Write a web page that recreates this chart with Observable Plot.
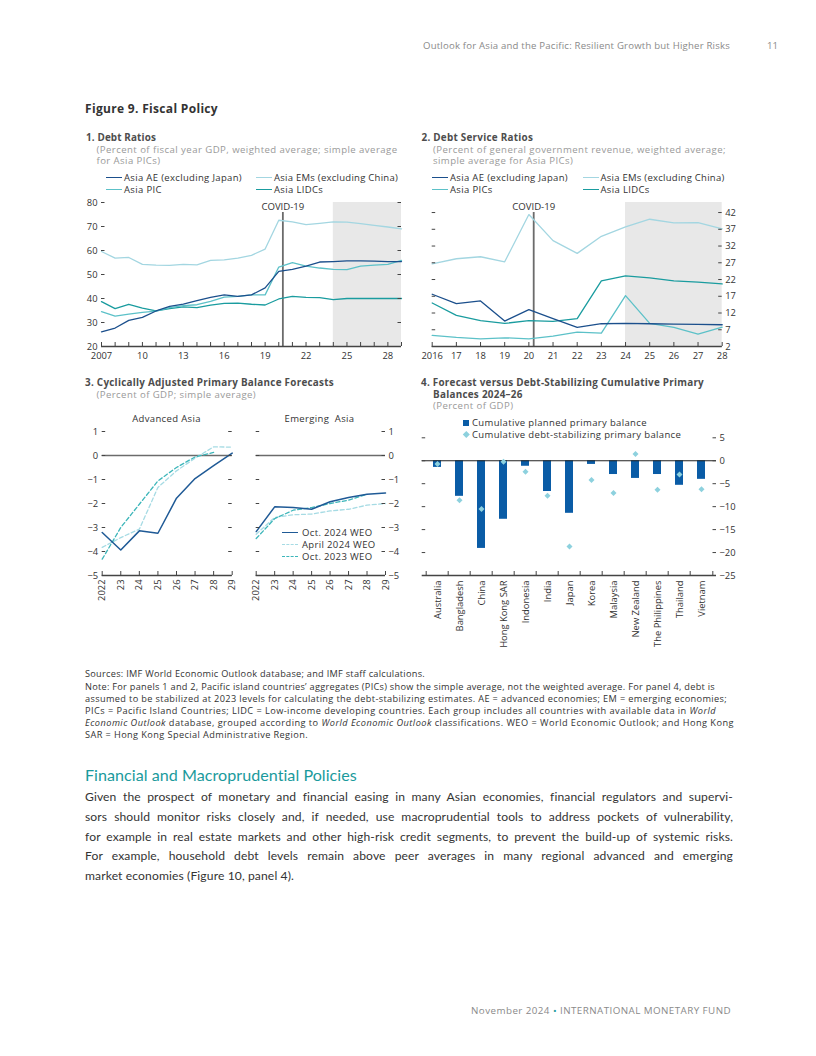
<!DOCTYPE html>
<html><head><meta charset="utf-8">
<script src="https://cdn.jsdelivr.net/npm/d3@7"></script>
<script src="https://cdn.jsdelivr.net/npm/@observablehq/plot@0.6"></script>
<style>
body{margin:0;width:816px;height:1056px;position:relative;font-family:"Open Sans",sans-serif;background:#fff;color:#333;overflow:hidden}
.t{position:absolute;white-space:nowrap;line-height:11px}
.pt{font-weight:bold;font-size:9.9px;color:#4d4d4d;letter-spacing:0.27px}
.ps{font-size:9.6px;color:#9a9a9a;letter-spacing:0.42px}
.lg{font-size:9.5px;color:#333;letter-spacing:0.35px}
.sw{position:absolute;height:0;border-top:1.4px solid}
.fn{font-size:9.2px;color:#333}
.bd{position:absolute;left:85px;white-space:nowrap;font-family:Lato,sans-serif;font-size:12.1px;letter-spacing:0.12px;line-height:16px;color:#333}
.plot{position:absolute}
</style></head><body>

<div class="t" data-w="307" style="right:86px;top:39.5px;font-size:9.6px;color:#8a8a8a">Outlook for Asia and the Pacific: Resilient Growth but Higher Risks</div>
<div class="t" style="left:767px;top:39.5px;font-size:9.6px;color:#8a8a8a">11</div>

<div class="t" data-w="133" style="left:85px;top:102px;font-size:12px;font-weight:bold;color:#333;line-height:14px">Figure 9. Fiscal Policy</div>

<!-- Panel 1 texts -->
<div class="t pt" data-w="70" style="left:86px;top:132px">1. Debt Ratios</div>
<div class="t ps" data-w="301" style="left:96.5px;top:143.5px">(Percent of fiscal year GDP, weighted average; simple average</div>
<div class="t ps" style="left:96.5px;top:154.5px">for Asia PICs)</div>
<div class="sw" style="left:106px;top:177px;width:16px;border-color:#1b4f8c"></div>
<div class="t lg" data-w="118" style="left:124px;top:172px">Asia AE (excluding Japan)</div>
<div class="sw" style="left:106px;top:189px;width:16px;border-color:#5cc1c8"></div>
<div class="t lg" style="left:124px;top:183.8px">Asia PIC</div>
<div class="sw" style="left:256px;top:177px;width:16px;border-color:#a3d6e1"></div>
<div class="t lg" data-w="124" style="left:274px;top:172px">Asia EMs (excluding China)</div>
<div class="sw" style="left:256px;top:189px;width:16px;border-color:#1a9c9f"></div>
<div class="t lg" style="left:274px;top:183.8px">Asia LIDCs</div>

<!-- Panel 2 texts -->
<div class="t pt" data-w="111.6" style="left:421.5px;top:132px">2. Debt Service Ratios</div>
<div class="t ps" data-w="293" style="left:433px;top:143.5px">(Percent of general government revenue, weighted average;</div>
<div class="t ps" style="left:433px;top:154.5px">simple average for Asia PICs)</div>
<div class="sw" style="left:432px;top:177px;width:16px;border-color:#1b4f8c"></div>
<div class="t lg" data-w="118" style="left:450px;top:172px">Asia AE (excluding Japan)</div>
<div class="sw" style="left:432px;top:189px;width:16px;border-color:#5cc1c8"></div>
<div class="t lg" style="left:450px;top:183.8px">Asia PICs</div>
<div class="sw" style="left:583px;top:177px;width:16px;border-color:#a3d6e1"></div>
<div class="t lg" data-w="124" style="left:600.5px;top:172px">Asia EMs (excluding China)</div>
<div class="sw" style="left:583px;top:189px;width:16px;border-color:#1a9c9f"></div>
<div class="t lg" style="left:600.5px;top:183.8px">Asia LIDCs</div>

<!-- Panel 3 texts -->
<div class="t pt" data-w="249" style="left:85px;top:377px">3. Cyclically Adjusted Primary Balance Forecasts</div>
<div class="t ps" style="left:96.5px;top:388.5px">(Percent of GDP; simple average)</div>
<div class="t lg" style="left:166.5px;top:413px;transform:translateX(-50%)">Advanced Asia</div>
<div class="t lg" style="left:319.5px;top:413px;transform:translateX(-50%)">Emerging&nbsp; Asia</div>
<div class="sw" style="left:282px;top:532px;width:16px;border-color:#1f5a96"></div>
<div class="t lg" style="left:302px;top:526.5px">Oct. 2024 WEO</div>
<div class="sw" style="left:282px;top:544px;width:16px;border-top-style:dashed;border-color:#a6dbe4"></div>
<div class="t lg" style="left:302px;top:538.5px">April 2024 WEO</div>
<div class="sw" style="left:282px;top:556px;width:16px;border-top-style:dashed;border-color:#3db6ba"></div>
<div class="t lg" style="left:302px;top:550.5px">Oct. 2023 WEO</div>

<!-- Panel 4 texts -->
<div class="t pt" data-w="283" style="left:421px;top:377px">4. Forecast versus Debt-Stabilizing Cumulative Primary</div>
<div class="t pt" style="left:433px;top:388.5px">Balances 2024–26</div>
<div class="t ps" style="left:433px;top:400px">(Percent of GDP)</div>
<div style="position:absolute;left:463.3px;top:419.7px;width:6px;height:6px;background:#0a5ca6"></div>
<div class="t lg" style="left:472px;top:417.2px">Cumulative planned primary balance</div>
<div style="position:absolute;left:463.5px;top:431.7px;width:4.6px;height:4.6px;background:#8dd1de;transform:rotate(45deg)"></div>
<div class="t lg" style="left:472px;top:428.8px">Cumulative debt-stabilizing primary balance</div>

<!-- Footnotes -->
<div class="t fn" data-w="340" style="left:85px;top:667.5px">Sources: IMF World Economic Outlook database; and IMF staff calculations.</div>
<div class="t fn" data-w="630" style="left:85px;top:680.5px">Note: For panels 1 and 2, Pacific island countries’ aggregates (PICs) show the simple average, not the weighted average. For panel 4, debt is</div>
<div class="t fn" data-w="642" style="left:85px;top:692.5px">assumed to be stabilized at 2023 levels for calculating the debt-stabilizing estimates. AE = advanced economies; EM = emerging economies;</div>
<div class="t fn" data-w="631" style="left:85px;top:704.5px">PICs = Pacific Island Countries; LIDC = Low-income developing countries. Each group includes all countries with available data in <i>World</i></div>
<div class="t fn" data-w="649" style="left:85px;top:716.5px"><i>Economic Outlook</i> database, grouped according to <i>World Economic Outlook</i> classifications. WEO = World Economic Outlook; and Hong Kong</div>
<div class="t fn" data-w="223" style="left:85px;top:728.5px">SAR = Hong Kong Special Administrative Region.</div>

<div class="t" data-w="272" style="left:85px;top:765px;font-family:Lato,sans-serif;font-size:16.1px;line-height:20px;color:#1a9a9c">Financial and Macroprudential Policies</div>
<div class="bd just" style="top:789px">Given the prospect of monetary and financial easing in many Asian economies, financial regulators and supervi-</div>
<div class="bd just" style="top:809px">sors should monitor risks closely and, if needed, use macroprudential tools to address pockets of vulnerability,</div>
<div class="bd just" style="top:828.5px">for example in real estate markets and other high-risk credit segments, to prevent the build-up of systemic risks.</div>
<div class="bd just" style="top:848px">For example, household debt levels remain above peer averages in many regional advanced and emerging</div>
<div class="bd" style="top:868px">market economies (Figure 10, panel 4).</div>

<div class="t" data-w="260" style="right:85px;top:1005px;font-size:9.8px;color:#8a8a8a">November 2024 <span style="color:#1a9a9c">•</span> INTERNATIONAL MONETARY FUND</div>

<script>
// ---------- DATA ----------
// Panel 1: Debt ratios (percent of GDP)
const p1Years = [2007,2008,2009,2010,2011,2012,2013,2014,2015,2016,2017,2018,2019,2020,2021,2022,2023,2024,2025,2026,2027,2028,2029];
const p1AE   = [26.1,27.7,30.9,32.1,34.8,36.7,37.7,39.1,40.5,41.5,40.9,41.5,44.4,51.3,52.1,53.5,55.2,55.4,55.7,55.7,55.6,55.4,55.4];
const p1EM   = [59.6,56.8,57.1,54.2,53.9,53.8,54.2,54.0,55.9,56.1,56.8,58.0,60.6,72.6,71.9,70.8,71.3,71.9,71.8,71.2,70.5,69.8,69.0];
const p1PIC  = [34.5,32.7,33.5,34.2,34.7,36.2,37.0,37.4,38.8,40.6,40.9,41.5,41.5,53.1,54.9,53.5,52.7,52.1,52.0,53.5,53.9,54.2,55.9];
const p1LIDC = [38.7,35.8,37.6,36.0,34.8,35.8,36.5,36.2,37.2,38.0,38.1,37.6,37.3,39.8,40.9,40.5,40.4,39.5,40.0,40.0,40.0,40.0,40.0];
const p1XDomain = [2007, 2029];
const p1YDomain = [20, 80];
const p1YTicks = [20,30,40,50,60,70,80];
const p1XLabels = [2007,2010,2013,2016,2019,2022,2025,2028];
const p1Shade = [2024, 2029];
const p1Covid = 2020.3;

// Panel 2: Debt service ratios (percent of revenue)
const p2Years = [2016,2017,2018,2019,2020,2021,2022,2023,2024,2025,2026,2027,2028];
const p2AE   = [17.6,14.8,15.6,9.6,13.0,10.3,7.7,8.8,8.9,8.8,8.7,8.6,8.5];
const p2EM   = [26.7,28.2,28.8,27.3,41.4,33.6,29.8,34.9,37.7,40.0,38.9,39.0,37.1];
const p2PIC  = [5.3,4.7,4.3,4.6,4.3,5.1,6.3,6.0,17.2,8.9,7.7,5.7,7.8];
const p2LIDC = [15.0,11.3,9.7,8.9,9.7,9.5,10.3,21.6,23.1,22.5,21.6,21.2,20.7];
const p2XDomain = [2016, 2028];
const p2YDomain = [2, 45];
const p2YTicks = [2,7,12,17,22,27,32,37,42];
const p2Shade = [2024, 2028];
const p2Covid = 2020.2;

// Panel 3: Cyclically adjusted primary balance forecasts (percent of GDP)
const p3Years = [2022,2023,2024,2025,2026,2027,2028,2029];
const p3AdvOct24 = [-3.21,-3.94,-3.14,-3.24,-1.78,-0.96,-0.42,0.10];
const p3AdvApr24 = [-3.83,-3.42,-3.07,-1.33,-0.64,-0.11,0.36,0.35];
const p3AdvOct23 = [-4.32,-3.00,-2.03,-1.06,-0.50,-0.06,0.13,null];
const p3EmgOct24 = [-3.17,-2.14,-2.17,-2.24,-1.93,-1.75,-1.61,-1.56];
const p3EmgApr24 = [-3.28,-2.58,-2.47,-2.44,-2.31,-2.24,-2.07,-2.00];
const p3EmgOct23 = [-3.46,-2.63,-2.28,-2.17,-2.00,-1.86,-1.61,null];
const p3YDomain = [-5, 1];
const p3YTicks = [1,0,-1,-2,-3,-4,-5];

// Panel 4: Forecast vs debt-stabilizing cumulative primary balances 2024-26
const p4Countries = ["Australia","Bangladesh","China","Hong Kong SAR","Indonesia","India","Japan","Korea","Malaysia","New Zealand","The Philippines","Thailand","Vietnam"];
const p4Planned = [-1.45,-7.75,-19.1,-12.75,-1.2,-6.7,-11.45,-0.8,-3.0,-3.85,-3.0,-5.35,-4.05];
const p4Stabilizing = [-0.7,-8.6,-10.5,-0.2,-2.4,-7.6,-18.7,-4.2,-7.0,1.45,-6.3,-3.0,-6.2];
const p4YDomain = [-25, 5];
const p4YTicks = [5,0,-5,-10,-15,-20,-25];
const p4LeftTicks = [5,0,-5,-10,-15,-20];

// ---------- STYLE ----------
const C = {ae:"#1b4f8c", em:"#a3d6e1", pic:"#5cc1c8", lidc:"#1a9c9f",
           oct24:"#1f5a96", apr24:"#a6dbe4", oct23:"#3db6ba",
           bar:"#0a5ca6", dia:"#8dd1de", axis:"#444", shade:"#e8e8e8", covid:"#6b6b6b"};
const FONT = "'Open Sans', sans-serif";
const yr2 = d => String(d).slice(2);
const intFmt = d => (d < 0 ? "\u2212" : "") + Math.abs(d);

function place(svg, left, top) {
  const d = document.createElement("div");
  d.className = "plot";
  d.style.left = left + "px"; d.style.top = top + "px";
  d.appendChild(svg);
  document.body.appendChild(d);
}
function frame(W,H,mL,mR,mT,mB){
  return {width:W,height:H,marginLeft:mL,marginRight:mR,marginTop:mT,marginBottom:mB,
    style:{fontFamily:FONT,fontSize:"9.4px",color:"#333",background:"transparent",overflow:"visible"}};
}
function inTicksY(ticks, plotW, side, extra={}) {
  return Plot.tickY(ticks, {y:d=>d, stroke:C.axis, strokeWidth:1,
    ...(side==="left" ? {insetRight: plotW-3.5} : {insetLeft: plotW-3.5}), ...extra});
}
function lineOf(xs, ys, opts) {
  return Plot.lineY(ys, {x: xs, y: ys, strokeWidth: 1.3, ...opts});
}

// ---------- PANEL 1 ----------
{
  const W=335,H=175,mL=21,mR=14,mT=7,mB=24, pw=W-mL-mR, ph=H-mT-mB;
  place(Plot.plot({
    ...frame(W,H,mL,mR,mT,mB),
    x:{domain:p1XDomain}, y:{domain:p1YDomain},
    marks:[
      Plot.rect([p1Shade], {x1:d=>d[0], x2:d=>d[1], fill:C.shade}),
      Plot.ruleX([p1Covid], {x:d=>d, stroke:C.covid, strokeWidth:1.8, insetTop:10}),
      Plot.text([p1Covid], {x:d=>d, frameAnchor:"top", lineAnchor:"middle", text:()=>"COVID-19", dy:4.5, fontSize:9.6, fill:"#333"}),
      lineOf(p1Years, p1EM, {stroke:C.em}),
      lineOf(p1Years, p1LIDC, {stroke:C.lidc}),
      lineOf(p1Years, p1PIC, {stroke:C.pic}),
      lineOf(p1Years, p1AE, {stroke:C.ae}),
      Plot.ruleY([p1YDomain[0]], {stroke:C.axis, strokeWidth:1.3}),
      Plot.tickX(p1Years, {x:d=>d, insetTop:ph-4, stroke:C.axis}),
      inTicksY(p1YTicks, pw, "left"),
      inTicksY(p1YTicks, pw, "right"),
      Plot.axisX({ticks:p1XLabels, tickSize:0, tickPadding:6, tickFormat:d=>d===2007?"2007":yr2(d)}),
      Plot.axisY({ticks:p1YTicks, tickSize:0, tickPadding:4})
    ]
  }), 80, 195);
}

// ---------- PANEL 2 ----------
{
  const W=335,H=175,mL=16.7,mR=28.3,mT=7,mB=24, pw=W-mL-mR, ph=H-mT-mB;
  place(Plot.plot({
    ...frame(W,H,mL,mR,mT,mB),
    x:{domain:p2XDomain}, y:{domain:p2YDomain},
    marks:[
      Plot.rect([p2Shade], {x1:d=>d[0], x2:d=>d[1], fill:C.shade}),
      Plot.ruleX([p2Covid], {x:d=>d, stroke:C.covid, strokeWidth:1.8, insetTop:10}),
      Plot.text([p2Covid], {x:d=>d, frameAnchor:"top", lineAnchor:"middle", text:()=>"COVID-19", dy:4.5, fontSize:9.6, fill:"#333"}),
      lineOf(p2Years, p2EM, {stroke:C.em}),
      lineOf(p2Years, p2PIC, {stroke:C.pic}),
      lineOf(p2Years, p2LIDC, {stroke:C.lidc}),
      lineOf(p2Years, p2AE, {stroke:C.ae}),
      Plot.ruleY([p2YDomain[0]], {stroke:C.axis, strokeWidth:1.3}),
      Plot.tickX(p2Years, {x:d=>d, insetTop:ph-4, stroke:C.axis}),
      inTicksY(p2YTicks, pw, "left"),
      inTicksY(p2YTicks, pw, "right"),
      Plot.axisX({ticks:p2Years, tickSize:0, tickPadding:6, tickFormat:d=>d===2016?"2016":yr2(d)}),
      Plot.axisY({ticks:p2YTicks, anchor:"right", tickSize:0, tickPadding:3})
    ]
  }), 415, 195);
}

// ---------- PANEL 3 ----------
function p3Panel(oct24, apr24, oct23, side, W, mL, mR, left) {
  const H=190, mT=6, mB=40, pw=W-mL-mR, ph=H-mT-mB;
  place(Plot.plot({
    ...frame(W,H,mL,mR,mT,mB),
    x:{domain:[p3Years[0], p3Years[p3Years.length-1]]}, y:{domain:p3YDomain},
    marks:[
      Plot.ruleY([0], {stroke:"#6b6b6b", strokeWidth:1.6}),
      lineOf(p3Years, apr24, {stroke:C.apr24, strokeDasharray:"4,2.5"}),
      lineOf(p3Years, oct23, {stroke:C.oct23, strokeDasharray:"4,2.5"}),
      lineOf(p3Years, oct24, {stroke:C.oct24, strokeWidth:1.5}),
      Plot.ruleY([p3YDomain[0]], {stroke:C.axis, strokeWidth:1.3}),
      Plot.tickX(p3Years, {x:d=>d, insetTop:ph-4, stroke:C.axis}),
      inTicksY(p3YTicks, pw, "left"),
      inTicksY(p3YTicks, pw, "right"),
      Plot.axisX({ticks:p3Years, tickSize:0, tickPadding:4, tickRotate:-90, tickFormat:d=>d===2022?"2022":yr2(d)}),
      Plot.axisY({ticks:p3YTicks, anchor:side, tickSize:0, tickPadding:side==="left"?4:3, tickFormat:intFmt})
    ]
  }), left, 425);
}
p3Panel(p3AdvOct24, p3AdvApr24, p3AdvOct23, "left", 160, 21.7, 8.3, 80);
p3Panel(p3EmgOct24, p3EmgApr24, p3EmgOct23, "right", 175, 15.7, 30, 240);

// ---------- PANEL 4 ----------
{
  const W=335,H=230,mL=6.7,mR=34,mT=7.3,mB=85, pw=W-mL-mR, ph=H-mT-mB;
  const step = pw / p4Countries.length;
  place(Plot.plot({
    ...frame(W,H,mL,mR,mT,mB),
    x:{domain:p4Countries, type:"band", paddingInner:0.65, paddingOuter:0.325},
    y:{domain:p4YDomain},
    marks:[
      Plot.barY(p4Countries, {x:d=>d, y:(d,i)=>p4Planned[i], fill:C.bar}),
      Plot.ruleY([0], {stroke:"#222", strokeWidth:1.2}),
      Plot.dot(p4Countries, {x:d=>d, y:(d,i)=>p4Stabilizing[i], symbol:"diamond2", r:2.7, fill:C.dia, stroke:"none"}),
      Plot.ruleY([p4YDomain[0]], {stroke:C.axis, strokeWidth:1.3}),
      Plot.tickX(p4Countries, {x:d=>d, dx:-step/2, insetTop:ph-4, stroke:C.axis}),
      Plot.tickX(p4Countries.slice(-1), {x:d=>d, dx:step/2, insetTop:ph-4, stroke:C.axis}),
      inTicksY(p4LeftTicks, pw, "left"),
      inTicksY(p4YTicks, pw, "right"),
      Plot.axisX({tickSize:0, tickPadding:5, tickRotate:-90}),
      Plot.axisY({ticks:p4YTicks, anchor:"right", tickSize:0, tickPadding:3, tickFormat:intFmt})
    ]
  }), 415, 430);
}

// ---------- text fitting ----------
function layoutText(){
  document.querySelectorAll("[data-w]").forEach(el => {
    el.style.letterSpacing = "0px";
    const w = el.getBoundingClientRect().width;
    const n = el.textContent.length;
    el.style.letterSpacing = ((+el.dataset.w - w) / n) + "px";
  });
  document.querySelectorAll(".just").forEach(el => {
    el.style.wordSpacing = "0px";
    el.style.display = "inline-block";
    const w = el.getBoundingClientRect().width;
    const n = (el.textContent.match(/ /g) || []).length;
    if (n) el.style.wordSpacing = ((648 - w) / n) + "px";
  });
}
if (document.fonts && document.fonts.ready) document.fonts.ready.then(layoutText);
layoutText();
</script>
</body></html>
